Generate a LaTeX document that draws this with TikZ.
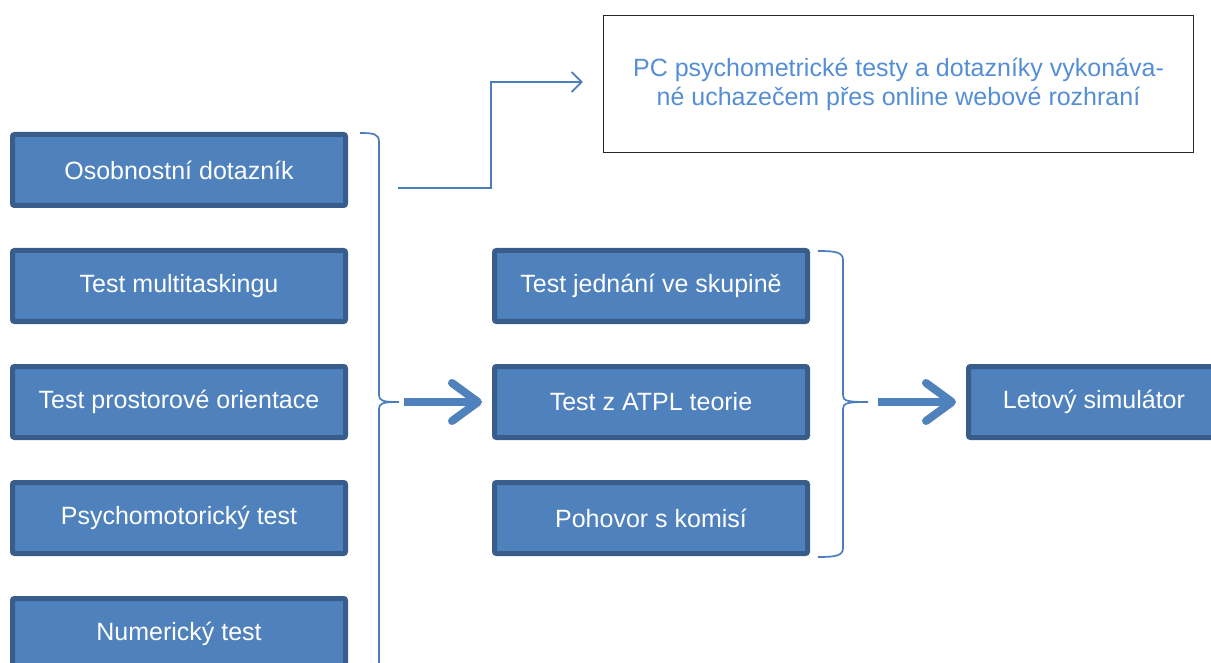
\documentclass[tikz,border=0pt]{standalone}
\usepackage{fontspec}
\setmainfont{Liberation Sans}
\usepackage{tikz}
\usetikzlibrary{arrows.meta,positioning,calc}
\definecolor{boxfill}{HTML}{4F81BD}
\definecolor{boxline}{HTML}{385D8A}
\definecolor{lineblue}{HTML}{4A7EBB}
\definecolor{textblue}{HTML}{558ED5}
\tikzstyle{testbox} = [rectangle, rounded corners=2pt, minimum width=333pt, minimum
height=71pt, inner sep=0pt, align=center, fill=boxfill, draw=boxline, line width=5pt,
text=white, font=\fontsize{25}{30}\selectfont]
\tikzstyle{infobox} = [rectangle, minimum width=590pt, minimum height=137pt,
align=center, draw=black!85, line width=1.3pt, text=textblue,
font=\fontsize{25}{29}\selectfont]
\tikzstyle{bigarrow} = [line width=8pt, draw=boxfill, -{Straight Barb[length=26pt,width=38pt,round]},
preaction={draw=black, opacity=.18, transform canvas={shift={(2pt,-3pt)}}}]
\tikzstyle{thinarrow} = [line width=1.7pt, draw=lineblue, -{Straight Barb[length=10pt,width=20pt]}]
\tikzstyle{svorka} = [line width=1.7pt, draw=lineblue]

\begin{document}
\begin{tikzpicture} [x=1pt, y=1pt, node distance=40pt]
  \useasboundingbox (0,0) rectangle (1211,-663);
  \clip (0,0) rectangle (1211,-663);

  \node (osob) [testbox] at (179,-170) {Osobnostní dotazník};
  \node (multi) [testbox, below=of osob] {Test multitaskingu};
  \node (prostor) [testbox, below=of multi] {Test prostorové orientace};
  \node (psycho) [testbox, below=of prostor] {Psychomotorický test};
  \node (numer) [testbox, below=of psycho] {Numerický test};

  \node (atpl) [testbox, minimum width=313pt, right=144pt of prostor] {Test z ATPL teorie};
  \node (skupina) [testbox, minimum width=313pt, above=of atpl] {Test jednání ve skupině};
  \node (komise) [testbox, minimum width=313pt, below=of atpl] {Pohovor s komisí};

  \node (simul) [testbox, minimum width=251pt, right=156pt of atpl] {Letový simulátor};

  \node (online) [infobox] at (898.5,-84) {PC psychometrické testy a dotazníky vykonáva-\\
    né uchazečem přes online webové rozhraní};

  \coordinate (tip1) at (399,-402);
  \coordinate (tip2) at (868,-402);
  \coordinate (dotazstart) at (398,-188);

  \draw[svorka] (360,-133) .. controls (374,-133) and (379,-134) .. (379,-142)
    -- (379,-395) .. controls (379,-401) and (383,-402) .. (tip1)
    .. controls (383,-402) and (379,-403) .. (379,-409) -- (379,-670);
  \draw[svorka] (818,-251) .. controls (835,-251) and (843,-252) .. (843,-260)
    -- (843,-395) .. controls (843,-401) and (847,-402) .. (tip2)
    .. controls (847,-402) and (843,-403) .. (843,-409)
    -- (843,-548) .. controls (843,-556) and (835,-557) .. (818,-557);

  \draw[bigarrow, shorten >=10pt] ([xshift=5pt]tip1) -- (atpl.west);
  \draw[bigarrow, shorten >=10pt] ([xshift=10pt]tip2) -- (simul.west);

  \draw[thinarrow] (dotazstart) -| ([xshift=-112pt,yshift=2pt]online.west)
    -- ([xshift=-20pt,yshift=2pt]online.west);
\end{tikzpicture}
\end{document}
